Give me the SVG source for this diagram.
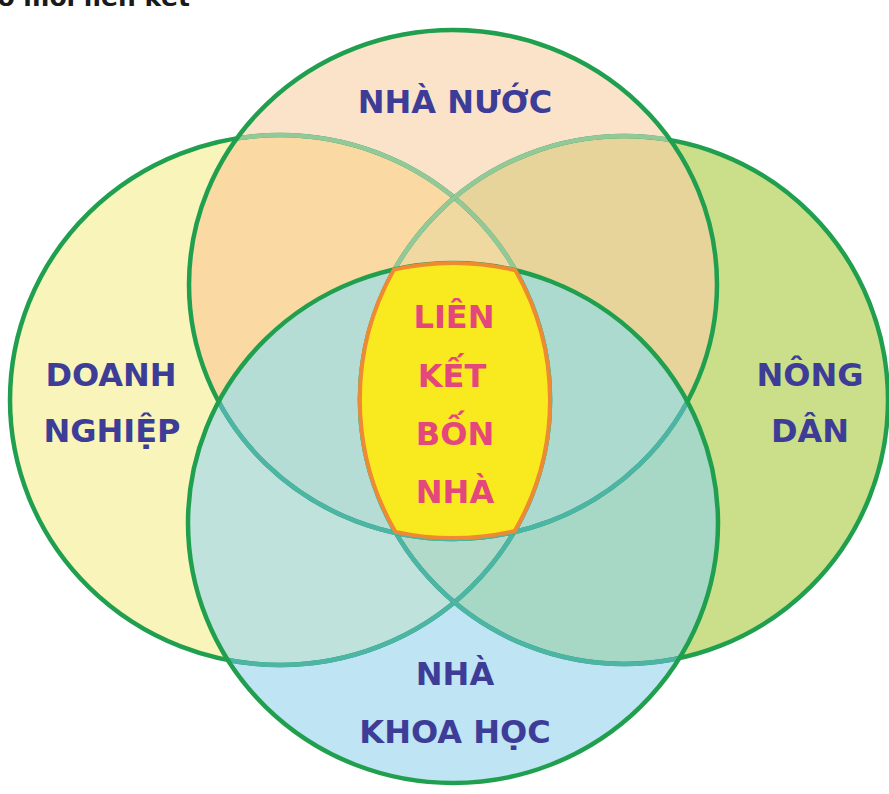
<svg xmlns="http://www.w3.org/2000/svg" width="889" height="794" viewBox="0 0 889 794">
  <style>
    .lbl { font-family: "DejaVu Sans", "Liberation Sans", sans-serif; font-weight: bold; font-size: 32px; text-anchor: middle; fill: #3d3d98; }
    .ctr { fill: #e4477c; }
    .ttl { font-family: "DejaVu Sans", "Liberation Sans", sans-serif; font-weight: bold; font-size: 25px; text-anchor: end; fill: #1a1a1a; }
    .edge { fill: none; stroke-width: 4.5; }
    .g { stroke: #20a04e; }
    .ft { stroke: #93c898; }
    .tl { stroke: #4db5a6; }
  </style>
  <defs>
    <ellipse id="eT" cx="453" cy="284.5" rx="264" ry="254.5"/>
    <ellipse id="eB" cx="453" cy="523" rx="265" ry="260"/>
    <ellipse id="eL" cx="280" cy="400" rx="270" ry="265"/>
    <ellipse id="eR" cx="624" cy="400" rx="264" ry="264"/>
    <clipPath id="cT"><use href="#eT"/></clipPath>
    <clipPath id="cB"><use href="#eB"/></clipPath>
    <clipPath id="cL"><use href="#eL"/></clipPath>
    <clipPath id="cR"><use href="#eR"/></clipPath>
  </defs>
  <rect width="889" height="794" fill="#ffffff"/>

  <text class="ttl" x="190" y="6">Sơ đồ mới liên kết</text>

  <!-- base fills -->
  <g id="doanh-nghiep-fill"><use href="#eL" fill="#f9f4ba"/></g>
  <g id="nong-dan-fill"><use href="#eR" fill="#cbdf8b"/></g>
  <g id="nha-nuoc-fill">
    <use href="#eT" fill="#fbe3ca"/>
    <use href="#eT" fill="#fbd9a2" clip-path="url(#cL)"/>
    <use href="#eT" fill="#e7d49b" clip-path="url(#cR)"/>
    <g clip-path="url(#cL)"><use href="#eT" fill="#efd9a1" clip-path="url(#cR)"/></g>
  </g>
  <g id="nha-khoa-hoc-fill">
    <use href="#eB" fill="#bfe4f4"/>
    <use href="#eB" fill="#bfe2dc" clip-path="url(#cL)"/>
    <use href="#eB" fill="#a7d7c5" clip-path="url(#cR)"/>
    <g clip-path="url(#cL)"><use href="#eB" fill="#b1dacb" clip-path="url(#cR)"/></g>
    <g clip-path="url(#cT)"><use href="#eB" fill="#b5dcd5" clip-path="url(#cL)"/></g>
    <g clip-path="url(#cT)"><use href="#eB" fill="#addace" clip-path="url(#cR)"/></g>
  </g>

  <!-- outlines -->
  <g id="outlines">
    <use href="#eL" class="edge g"/>
    <use href="#eL" class="edge ft" clip-path="url(#cT)"/>
    <use href="#eL" class="edge tl" clip-path="url(#cB)"/>
    <use href="#eR" class="edge g"/>
    <use href="#eR" class="edge ft" clip-path="url(#cT)"/>
    <use href="#eR" class="edge tl" clip-path="url(#cB)"/>
    <use href="#eT" class="edge g"/>
    <use href="#eT" class="edge tl" clip-path="url(#cB)"/>
    <use href="#eB" class="edge g"/>
  </g>

  <g id="nha-nuoc">
    <text class="lbl" x="455" y="113">NHÀ NƯỚC</text>
  </g>
  <g id="doanh-nghiep">
    <text class="lbl" x="111" y="386">DOANH</text>
    <text class="lbl" x="112" y="442">NGHIỆP</text>
  </g>
  <g id="nong-dan">
    <text class="lbl" x="810" y="386">NÔNG</text>
    <text class="lbl" x="810" y="442">DÂN</text>
  </g>
  <g id="nha-khoa-hoc">
    <text class="lbl" x="455" y="685">NHÀ</text>
    <text class="lbl" x="455" y="743">KHOA HỌC</text>
  </g>

  <g id="lien-ket-bon-nha">
    <path d="M394,269.6 A265,260 0 0 1 515.4,270.3 A270,265 0 0 1 514.7,531 A264,254.5 0 0 1 395.5,531.9 A264,264 0 0 1 394,269.6 Z" fill="#f8ea1e" stroke="#ef8a32" stroke-width="4" stroke-linejoin="round"/>
    <text class="lbl ctr" x="454" y="328">LIÊN</text>
    <text class="lbl ctr" x="452" y="387">KẾT</text>
    <text class="lbl ctr" x="455" y="445">BỐN</text>
    <text class="lbl ctr" x="455" y="503">NHÀ</text>
  </g>
</svg>
